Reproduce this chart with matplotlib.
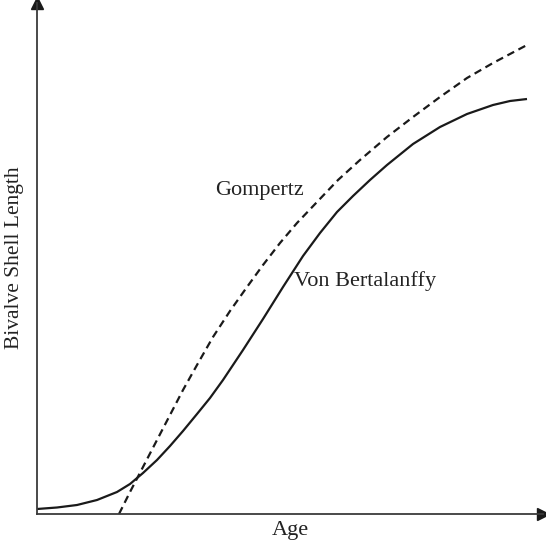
import matplotlib
matplotlib.use("Agg")
import matplotlib.pyplot as plt

# Von Bertalanffy curve (arbitrary units)
vb_age = [0, 20, 40, 60, 80, 93, 106, 120, 133, 146, 160, 173, 186, 206, 226,
          246, 266, 283, 300, 316, 333, 350, 376, 403, 430, 456, 473, 490]
vb_len = [5, 6.5, 9, 14, 22, 30, 41, 54, 68, 83, 100, 116, 134, 164, 195,
          227, 258, 281, 302, 318, 334, 349, 370, 387, 400, 409, 413, 415]

# Gompertz curve (arbitrary units)
gz_age = [82, 93, 106, 120, 133, 146, 160, 176, 193, 210, 226, 243, 260, 280,
          301, 323, 350, 376, 403, 430, 456, 490]
gz_len = [0, 22, 47, 74, 99, 124, 149, 177, 203, 227, 249, 271, 291, 312,
          334, 354, 377, 397, 417, 436, 451, 469]

x_label = "Age"
y_label = "Bivalve Shell Length"
labels = ["Gompertz", "Von Bertalanffy"]

plt.rcParams['font.family'] = ['Liberation Serif', 'DejaVu Serif']
plt.rcParams['lines.scale_dashes'] = False

fig = plt.figure(figsize=(5.46, 5.45), dpi=100)
ax = fig.add_axes([37/546, 31/545, 506/546, 511/545])
ax.set_xlim(0, 506)
ax.set_ylim(0, 511)

ax.plot(vb_age, vb_len, color='#1a1a1a', lw=1.6, solid_capstyle='butt',
        solid_joinstyle='round')
ax.plot(gz_age, gz_len, color='#1a1a1a', lw=1.6, dashes=(5.5, 3.5))

for s in ['top', 'right']:
    ax.spines[s].set_visible(False)
for s in ['left', 'bottom']:
    ax.spines[s].set_color('#3a3a3a')
    ax.spines[s].set_linewidth(1.3)
ax.set_xticks([])
ax.set_yticks([])

# arrow heads
ax.plot([1], [0], marker='>', markersize=8, color='#1a1a1a', transform=ax.transAxes, clip_on=False)
ax.plot([0], [1], marker='^', markersize=8, color='#1a1a1a', transform=ax.transAxes, clip_on=False)

ax.text(178, 324, labels[0], fontsize=16, ha='left', va='center', color='#222222')
ax.text(257, 233, labels[1], fontsize=16, ha='left', va='center', color='#222222')

fig.text(290/546, 1 - 530/545, x_label, fontsize=16, ha='center', va='center', color='#222222')
fig.text(15/546, 1 - 258/545, y_label, fontsize=15.5, ha='center', va='center', rotation=90, color='#222222')

fig.savefig('out.png', dpi=100)
